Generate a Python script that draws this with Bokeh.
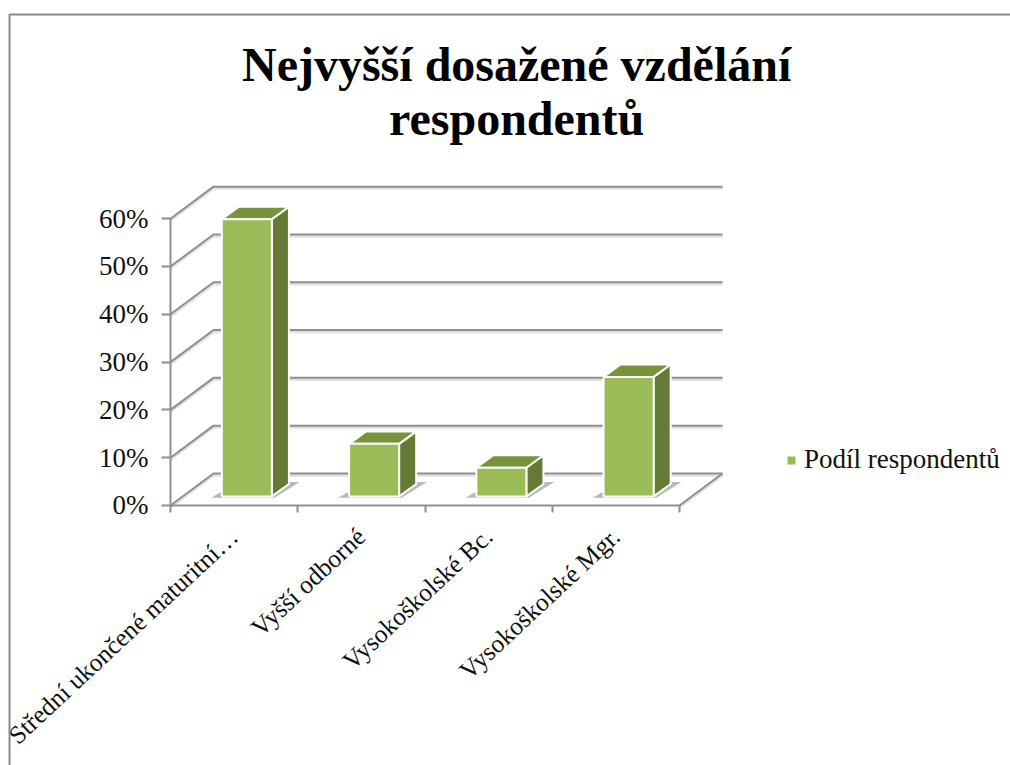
import math
from bokeh.plotting import figure
from bokeh.embed import file_html
from bokeh.resources import INLINE
from bokeh.models import (BoxAnnotation, FixedTicker, Label, Legend, LegendItem,
                          Range1d)

title_text = "Nejvyšší dosažené vzdělání\nrespondentů"
categories = ["Střední ukončené maturitní…", "Vyšší odborné",
              "Vysokoškolské Bc.", "Vysokoškolské Mgr."]
values = [58, 11, 6, 25]
y_ticks = [0, 10, 20, 30, 40, 50, 60]
y_labels = ["0%", "10%", "20%", "30%", "40%", "50%", "60%"]
series_name = "Podíl respondentů"

FONT = "Liberation Serif"
GRID = "#8f8f8f"
HALO = "#e2e2e2"
FRONT = "#9bbb59"
TOP = "#77933c"
SIDE = "#647a35"

# oblique offsets of the fake 3D, in data units
WALL_DX, WALL_DY = 0.338, 6.7
BAR_W = 0.393
BAR_OX, BAR_OY = 0.10, 1.9
BAR_DX, BAR_DY = 0.134, 2.6
N = len(categories)

p = figure(width=1010, height=765, toolbar_location=None, output_backend="svg",
           x_range=Range1d(-1.336, 6.601), y_range=Range1d(-54.4, 105.65),
           min_border_left=0, min_border_right=0,
           min_border_top=0, min_border_bottom=0,
           outline_line_color=None, background_fill_color="white")
p.grid.visible = False

p.add_layout(Label(x=2.72, y=86.7, text=title_text, text_align="center",
                   text_baseline="middle", text_font=FONT, text_font_size="48px",
                   text_font_style="bold", text_color="black",
                   text_line_height=1.02))

# page border (left and top edges are the only ones visible)
p.add_layout(BoxAnnotation(left=-1.265, right=7, top=102.7, bottom=-60,
                           fill_color=None, fill_alpha=0,
                           line_color="#8a8a8a", line_alpha=1, line_width=2))

# walls and floor
xs, ys = [], []
for v in y_ticks:
    xs.append([0, WALL_DX, N + WALL_DX])
    ys.append([v, v + WALL_DY, v + WALL_DY])
xs.append([N, N + WALL_DX])
ys.append([0, WALL_DY])
p.multi_line(xs, [[u - 0.35 for u in y] for y in ys], line_color=HALO, line_width=3)
p.multi_line(xs, ys, line_color=GRID, line_width=2)

# bars
lefts = [i + 0.5 + BAR_OX - BAR_W / 2 for i in range(N)]
rights = [a + BAR_W for a in lefts]
bottoms = [BAR_OY] * N
tops = [BAR_OY + v for v in values]

shadow_xs, shadow_ys = [], []
for a, b in zip(lefts, rights):
    shadow_xs.append([a - 0.085, b + 0.02, b + BAR_DX + 0.085, b + BAR_DX, a])
    shadow_ys.append([BAR_OY - 0.3, BAR_OY - 0.3, BAR_OY + 3.0, BAR_OY + 3.0, BAR_OY + 1.0])
p.patches(shadow_xs, shadow_ys, fill_color="#a8a8a8", fill_alpha=0.8, line_color=None)

side_xs = [[b, b + BAR_DX, b + BAR_DX, b] for b in rights]
side_ys = [[BAR_OY, BAR_OY + BAR_DY, t + BAR_DY, t] for t in tops]
top_xs = [[a, a + BAR_DX, b + BAR_DX, b] for a, b in zip(lefts, rights)]
top_ys = [[t, t + BAR_DY, t + BAR_DY, t] for t in tops]
p.patches(side_xs, side_ys, fill_color=SIDE, line_color="white", line_width=2)
p.patches(top_xs, top_ys, fill_color=TOP, line_color="white", line_width=2)
front = p.quad(left=lefts, right=rights, bottom=bottoms, top=tops,
               fill_color=FRONT, line_color=None)
p.multi_line([[a, b, b, a, a] for a, b in zip(lefts, rights)],
             [[BAR_OY, BAR_OY, t, t, BAR_OY] for t in tops],
             line_color="white", line_width=2)

# axes
ya = p.yaxis[0]
ya.fixed_location = 0
ya.bounds = (0, 60)
ya.ticker = FixedTicker(ticks=y_ticks)
ya.major_label_overrides = dict(zip(y_ticks, y_labels))
ya.minor_tick_line_color = None
ya.major_tick_in = 0
ya.major_tick_out = 9
ya.major_label_standoff = 13
ya.axis_line_color = GRID
ya.axis_line_width = 2
ya.major_tick_line_color = GRID
ya.major_tick_line_width = 2
ya.major_label_text_font = FONT
ya.major_label_text_font_size = "27px"
ya.major_label_text_color = "#111111"

xa = p.xaxis[0]
xa.fixed_location = 0
xa.bounds = (0, N)
centres = [i + 0.5 for i in range(N)]
xa.ticker = FixedTicker(ticks=centres, minor_ticks=list(range(N + 1)))
xa.major_label_overrides = dict(zip(centres, categories))
xa.major_label_orientation = math.radians(43)
xa.major_tick_in = 0
xa.major_tick_out = 0
xa.minor_tick_in = 0
xa.minor_tick_out = 7
xa.minor_tick_line_color = GRID
xa.minor_tick_line_width = 2
xa.major_label_standoff = 20
xa.axis_line_color = GRID
xa.axis_line_width = 2
xa.major_label_text_font = FONT
xa.major_label_text_font_size = "25.5px"
xa.major_label_text_color = "#111111"

legend = Legend(items=[LegendItem(label=series_name, renderers=[front])],
                location=(786, 290), glyph_width=10, glyph_height=10,
                label_standoff=8, padding=0, margin=0, spacing=0,
                border_line_color=None, background_fill_alpha=0,
                label_text_font=FONT, label_text_font_size="27px",
                label_text_color="#111111")
p.add_layout(legend, "center")

open("out.html", "w").write(file_html(p, INLINE))
